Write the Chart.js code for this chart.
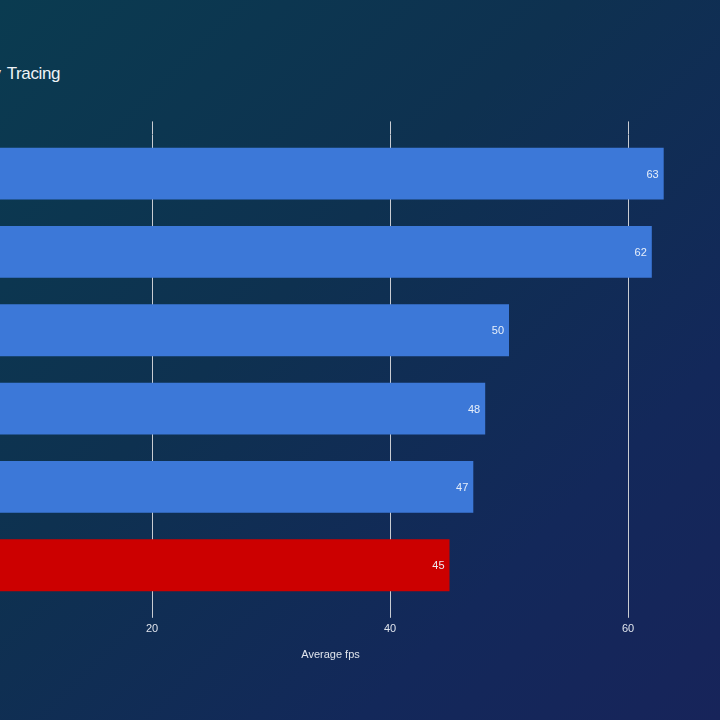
<!DOCTYPE html>
<html>
<head>
<meta charset="utf-8">
<script src="https://cdn.jsdelivr.net/npm/chart.js@4/dist/chart.umd.min.js"></script>
<style>
  html, body { margin: 0; padding: 0; width: 720px; height: 720px; overflow: hidden; }
  body {
    position: relative;
    background: linear-gradient(135deg, #0a3b50 0%, #0e3150 40%, #13285a 75%, #17245a 100%);
    font-family: "Liberation Sans", Arial, sans-serif;
  }
  #title {
    position: absolute; right: 660px; top: 64px;
    white-space: nowrap; color: #eef3f7; font-size: 17px; letter-spacing: -0.4px; word-spacing: 2px;
    font-family: "Liberation Sans", Arial, sans-serif;
  }
  #wrap { position: absolute; left: -100px; top: 0; width: 847px; height: 720px; }
</style>
</head>
<body>
<div id="title">Ray Tracing</div>
<div id="wrap"><canvas id="c"></canvas></div>
<script>
const categories = ["GPU A", "GPU B", "GPU C", "GPU D", "GPU E", "GPU F"];
const fpsValues = [63, 62, 50, 48, 47, 45];
const barColors = ["#3c78d8", "#3c78d8", "#3c78d8", "#3c78d8", "#3c78d8", "#cc0000"];
const axisTitle = "Average fps";

const valueLabels = {
  id: 'valueLabels',
  afterDatasetsDraw(chart) {
    const ctx = chart.ctx;
    const meta = chart.getDatasetMeta(0);
    ctx.save();
    ctx.font = '11px "Liberation Sans", Arial, sans-serif';
    ctx.fillStyle = 'rgba(240,245,252,0.95)';
    ctx.textAlign = 'right';
    ctx.textBaseline = 'middle';
    meta.data.forEach((bar, i) => {
      ctx.fillText(String(chart.data.datasets[0].data[i]), bar.x - 5, bar.y + 1);
    });
    ctx.restore();
  }
};

const gridColor = '#c9ccd2';
new Chart(document.getElementById('c'), {
  type: 'bar',
  data: {
    labels: categories,
    datasets: [{
      data: fpsValues,
      backgroundColor: barColors,
      borderWidth: 0,
      barPercentage: 0.662,
      categoryPercentage: 1.0
    }]
  },
  plugins: [valueLabels],
  options: {
    indexAxis: 'y',
    responsive: true,
    maintainAspectRatio: false,
    animation: false,
    layout: { padding: { left: 14, right: 0, top: 121.4, bottom: 54.8 } },
    plugins: { legend: { display: false }, tooltip: { enabled: false } },
    scales: {
      y: { display: false },
      x: {
        position: 'bottom',
        min: 0, max: 70,
        ticks: {
          stepSize: 20, includeBounds: false, padding: 5,
          color: '#dfe4ec',
          font: { size: 11, family: '"Liberation Sans", Arial, sans-serif' }
        },
        grid: { color: gridColor, lineWidth: 1, tickLength: 13.4, drawTicks: true },
        border: { display: false },
        title: {
          display: true, text: axisTitle, color: '#dfe4ec',
          padding: { top: 7, bottom: 4 },
          font: { size: 11, family: '"Liberation Sans", Arial, sans-serif' }
        }
      },
      x2: {
        position: 'top',
        axis: 'x',
        min: 0, max: 70,
        ticks: { display: false, stepSize: 20, includeBounds: false },
        grid: { color: gridColor, lineWidth: 1, tickLength: 13, drawOnChartArea: false, drawTicks: true },
        border: { display: false }
      }
    }
  }
});
</script>
</body>
</html>
